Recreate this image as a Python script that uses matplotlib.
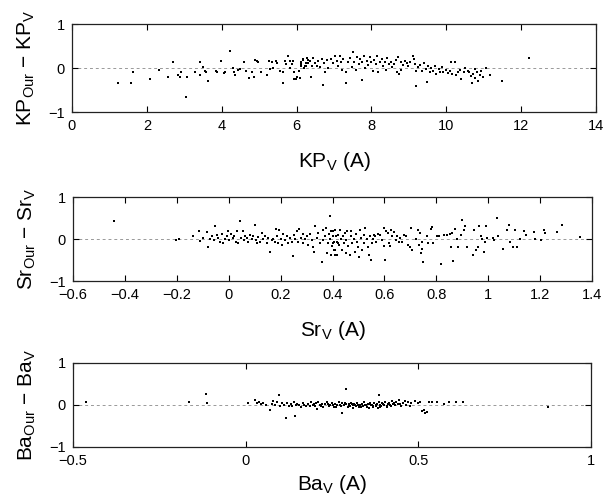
import numpy as np
import matplotlib
matplotlib.use("Agg")
import matplotlib.pyplot as plt

plt.rcParams['font.family'] = ['Liberation Sans', 'DejaVu Sans']
plt.rcParams['mathtext.fontset'] = 'custom'
plt.rcParams['mathtext.rm'] = 'Liberation Sans'
plt.rcParams['mathtext.it'] = 'Liberation Sans:italic'

# KP panel: (x, diff)
kp_pts = [
    (1.24, -0.35), (1.58, -0.33), (1.64, -0.09), (2.08, -0.25), (2.33, -0.05), (2.57, -0.2),
    (2.69, 0.14), (2.84, -0.16), (2.89, -0.21), (2.9, -0.1), (3.04, -0.65), (3.08, -0.2),
    (3.29, -0.08), (3.42, 0.14), (3.42, -0.16), (3.51, 0.02), (3.55, -0.06), (3.58, -0.1),
    (3.64, -0.29), (3.85, -0.06), (3.88, -0.08), (3.98, 0.17), (4.07, -0.12), (4.1, -0.1),
    (4.23, 0.39), (4.31, -0.01), (4.33, -0.08), (4.35, -0.17), (4.44, -0.05), (4.5, -0.02),
    (4.6, 0.14), (4.64, -0.06), (4.72, -0.23), (4.8, -0.1), (4.86, -0.2), (4.88, 0.19),
    (4.93, 0.16), (4.98, 0.14), (5.05, -0.08), (5.2, -0.16), (5.27, 0.16), (5.3, -0.02),
    (5.35, 0.14), (5.38, 0.0), (5.45, 0.17), (5.47, 0.11), (5.56, -0.06), (5.63, -0.35),
    (5.65, -0.1), (5.69, 0.16), (5.73, 0.08), (5.76, 0.28), (5.82, 0.17), (5.83, 0.0),
    (5.88, 0.08), (5.9, 0.16), (5.92, -0.1), (5.94, -0.25), (5.98, -0.25), (6.02, -0.2),
    (6.06, -0.07), (6.11, 0.05), (6.13, 0.13), (6.18, 0.2), (6.2, -0.01), (6.24, 0.11),
    (6.26, 0.05), (6.3, 0.19), (6.09, -0.23), (6.13, 0.09), (6.16, 0.19), (6.22, 0.04),
    (6.27, 0.22), (6.31, 0.11), (6.36, 0.17), (6.38, -0.2), (6.4, 0.05), (6.45, 0.22),
    (6.49, 0.11), (6.54, 0.05), (6.58, 0.17), (6.62, 0.02), (6.67, 0.2), (6.71, -0.38),
    (6.73, 0.11), (6.76, -0.1), (6.8, 0.19), (6.84, -0.01), (6.93, 0.2), (6.98, 0.11),
    (7.02, 0.27), (7.07, 0.17), (7.11, 0.05), (7.15, 0.28), (7.2, 0.13), (7.22, -0.04),
    (7.25, 0.2), (7.31, -0.34), (7.33, -0.1), (7.38, 0.13), (7.42, 0.22), (7.47, 0.02),
    (7.51, 0.36), (7.54, 0.14), (7.58, -0.04), (7.62, 0.24), (7.66, 0.09), (7.69, 0.2),
    (7.74, -0.27), (7.76, 0.13), (7.8, 0.27), (7.84, -0.01), (7.87, 0.17), (7.91, 0.07),
    (7.96, 0.24), (8.0, 0.13), (8.03, -0.06), (8.06, 0.19), (8.12, 0.09), (8.15, 0.27),
    (8.18, -0.1), (8.22, 0.14), (8.27, 0.2), (8.31, 0.04), (8.35, 0.13), (8.38, -0.04),
    (8.42, 0.22), (8.47, 0.09), (8.51, 0.14), (8.56, 0.02), (8.6, 0.09), (8.65, 0.19),
    (8.69, -0.1), (8.72, 0.24), (8.74, -0.14), (8.78, -0.04), (8.8, 0.13), (8.85, 0.07),
    (8.89, 0.17), (8.94, 0.11), (8.98, 0.04), (9.03, 0.13), (9.1, 0.27), (9.13, 0.2),
    (9.16, 0.09), (9.18, -0.06), (9.2, -0.4), (9.25, 0.02), (9.29, 0.07), (9.34, -0.06),
    (9.4, 0.11), (9.45, -0.02), (9.48, -0.31), (9.51, 0.04), (9.56, -0.1), (9.6, -0.01),
    (9.65, -0.06), (9.69, 0.05), (9.73, -0.14), (9.8, -0.02), (9.84, -0.08), (9.89, 0.02),
    (9.92, -0.1), (9.98, -0.04), (10.04, -0.11), (10.09, -0.06), (10.13, 0.13), (10.16, -0.14),
    (10.22, 0.14), (10.25, -0.17), (10.31, -0.1), (10.36, -0.04), (10.4, -0.25), (10.47, -0.1),
    (10.51, -0.01), (10.58, -0.06), (10.62, -0.1), (10.67, -0.19), (10.69, -0.33), (10.71, -0.14),
    (10.76, -0.02), (10.78, -0.23), (10.82, -0.1), (10.84, -0.29), (10.89, -0.17), (10.93, -0.06),
    (10.98, -0.21), (11.07, -0.01), (11.16, -0.16), (11.5, -0.3), (12.2, 0.23),
]

# Sr panel
sr_pts = [
    (-0.443, 0.42), (-0.204, -0.02), (-0.193, 0.01), (-0.138, 0.06), (-0.115, 0.18), (-0.112, -0.04),
    (-0.1, 0.02), (-0.084, 0.16), (-0.08, -0.18), (-0.072, 0.0), (-0.065, 0.06), (-0.056, -0.03),
    (-0.051, 0.3), (-0.047, 0.1), (-0.04, 0.02), (-0.034, -0.06), (-0.027, 0.13), (-0.021, -0.1),
    (-0.014, 0.0), (-0.008, 0.08), (-0.001, 0.18), (0.003, -0.03), (0.008, 0.13), (0.016, 0.02),
    (0.021, 0.06), (0.028, -0.06), (0.031, 0.18), (0.037, -0.1), (0.044, 0.42), (0.048, 0.02),
    (0.054, 0.18), (0.059, -0.02), (0.063, 0.08), (0.07, 0.02), (0.076, -0.06), (0.082, 0.1),
    (0.089, 0.0), (0.095, 0.06), (0.1, 0.34), (0.104, -0.03), (0.11, -0.1), (0.114, 0.05),
    (0.121, -0.06), (0.127, 0.14), (0.134, 0.0), (0.14, 0.06), (0.147, -0.1), (0.153, 0.02),
    (0.159, -0.3), (0.166, -0.03), (0.172, 0.0), (0.178, -0.08), (0.182, 0.25), (0.187, 0.06),
    (0.191, -0.1), (0.195, 0.21), (0.2, 0.0), (0.204, -0.14), (0.21, 0.13), (0.217, -0.03),
    (0.223, 0.06), (0.23, -0.1), (0.236, 0.02), (0.243, -0.06), (0.247, -0.4), (0.252, 0.1),
    (0.256, 0.0), (0.262, 0.18), (0.268, -0.06), (0.272, 0.24), (0.277, 0.02), (0.285, 0.13),
    (0.288, -0.1), (0.294, 0.0), (0.301, 0.08), (0.307, -0.14), (0.314, 0.13), (0.32, -0.03),
    (0.324, -0.18), (0.33, -0.32), (0.333, 0.3), (0.34, 0.02), (0.346, 0.14), (0.352, -0.1),
    (0.359, -0.54), (0.363, 0.21), (0.365, -0.03), (0.372, 0.08), (0.376, 0.26), (0.378, -0.34),
    (0.381, -0.1), (0.385, 0.13), (0.389, 0.54), (0.391, 0.0), (0.394, -0.38), (0.398, -0.16),
    (0.401, 0.18), (0.404, -0.06), (0.41, -0.26), (0.414, 0.06), (0.419, -0.38), (0.423, -0.1),
    (0.396, 0.18), (0.4, -0.1), (0.402, 0.06), (0.405, -0.26), (0.408, -0.38), (0.411, 0.21),
    (0.416, -0.06), (0.42, 0.1), (0.424, -0.14), (0.43, 0.22), (0.433, 0.0), (0.437, -0.26),
    (0.44, 0.08), (0.443, -0.1), (0.447, 0.14), (0.451, -0.34), (0.453, -0.03), (0.457, 0.18),
    (0.46, -0.16), (0.467, -0.38), (0.47, 0.06), (0.473, 0.18), (0.477, -0.1), (0.483, 0.0),
    (0.487, -0.32), (0.491, 0.13), (0.496, -0.06), (0.5, -0.18), (0.504, -0.43), (0.507, 0.21),
    (0.51, 0.02), (0.513, -0.26), (0.52, -0.1), (0.522, 0.1), (0.526, 0.26), (0.532, 0.0),
    (0.536, -0.18), (0.539, -0.38), (0.546, 0.06), (0.548, -0.5), (0.552, -0.1), (0.556, 0.0),
    (0.558, 0.1), (0.565, 0.06), (0.569, -0.06), (0.574, 0.13), (0.582, 0.1), (0.591, -0.02),
    (0.597, 0.26), (0.6, -0.16), (0.603, -0.51), (0.608, 0.18), (0.613, 0.14), (0.617, -0.1),
    (0.621, -0.16), (0.626, 0.22), (0.63, 0.08), (0.636, 0.16), (0.643, -0.02), (0.647, 0.08),
    (0.656, -0.06), (0.662, 0.02), (0.668, -0.06), (0.675, 0.1), (0.685, 0.06), (0.69, -0.14),
    (0.698, -0.19), (0.701, 0.26), (0.707, -0.26), (0.72, 0.0), (0.729, 0.22), (0.733, -0.14),
    (0.737, 0.14), (0.74, -0.34), (0.743, -0.24), (0.746, -0.06), (0.75, -0.55), (0.763, 0.08),
    (0.768, -0.1), (0.779, 0.24), (0.785, 0.29), (0.789, -0.1), (0.802, 0.06), (0.811, 0.08),
    (0.82, -0.6), (0.828, 0.1), (0.843, 0.1), (0.853, 0.13), (0.858, -0.18), (0.862, 0.14),
    (0.866, -0.52), (0.871, 0.24), (0.879, 0.0), (0.884, -0.18), (0.897, 0.1), (0.9, 0.46),
    (0.905, 0.22), (0.91, 0.32), (0.92, -0.18), (0.94, -0.38), (0.946, 0.22), (0.953, -0.27),
    (0.959, -0.18), (0.965, 0.3), (0.972, 0.06), (0.978, 0.0), (0.985, -0.3), (0.991, 0.32),
    (0.987, -0.06), (0.995, 0.02), (1.017, 0.02), (1.024, -0.03), (1.034, 0.5), (1.037, 0.08),
    (1.057, -0.24), (1.074, 0.21), (1.079, 0.34), (1.083, -0.06), (1.095, -0.18), (1.102, 0.21),
    (1.111, -0.18), (1.121, 0.0), (1.138, 0.18), (1.147, 0.1), (1.177, 0.16), (1.18, 0.0),
    (1.205, -0.03), (1.214, 0.21), (1.218, 0.14), (1.266, 0.16), (1.285, 0.34), (1.352, 0.05),
]

# Ba panel
ba_pts = [
    (-0.462, 0.08), (-0.164, 0.07), (-0.116, 0.26), (-0.113, 0.05), (0.008, 0.04), (0.027, 0.12),
    (0.032, 0.04), (0.04, 0.07), (0.045, 0.02), (0.06, 0.0), (0.07, -0.11), (0.08, 0.1),
    (0.085, -0.01), (0.097, 0.23), (0.117, -0.32), (0.143, -0.26), (0.133, -0.03), (0.206, -0.09),
    (0.278, -0.18), (0.29, 0.39), (0.385, 0.25), (0.51, -0.15), (0.52, -0.18),
    (0.05, 0.05), (0.075, 0.03), (0.09, 0.06), (0.1, -0.02), (0.105, 0.04), (0.11, 0.01),
    (0.12, 0.05), (0.125, -0.03), (0.13, 0.02), (0.14, 0.06), (0.145, -0.01), (0.15, 0.03),
    (0.16, -0.04), (0.165, 0.05), (0.17, 0.0), (0.18, 0.03), (0.185, -0.02), (0.19, 0.07),
    (0.195, 0.01), (0.2, -0.03), (0.205, 0.04), (0.21, 0.06), (0.215, -0.01), (0.22, 0.02),
    (0.225, -0.05), (0.23, 0.03), (0.235, 0.08), (0.24, -0.02), (0.245, 0.01), (0.25, 0.05),
    (0.255, -0.04), (0.26, 0.02), (0.265, 0.0), (0.27, 0.06), (0.275, -0.03), (0.28, 0.04),
    (0.285, -0.01), (0.29, 0.02), (0.295, -0.05), (0.3, 0.03), (0.302, -0.02), (0.305, 0.05),
    (0.31, 0.0), (0.312, -0.06), (0.315, 0.02), (0.32, -0.03), (0.322, 0.04), (0.325, -0.01),
    (0.33, 0.01), (0.333, -0.05), (0.336, 0.03), (0.34, -0.02), (0.343, 0.06), (0.346, 0.0),
    (0.35, -0.04), (0.353, 0.02), (0.356, -0.07), (0.36, 0.04), (0.363, -0.01), (0.366, 0.01),
    (0.37, -0.05), (0.373, 0.05), (0.376, -0.02), (0.38, 0.02), (0.383, -0.06), (0.386, 0.07),
    (0.39, 0.0), (0.393, -0.03), (0.396, 0.04), (0.4, -0.01), (0.404, 0.08), (0.408, -0.04),
    (0.412, 0.02), (0.416, 0.05), (0.42, -0.02), (0.424, 0.1), (0.428, 0.03), (0.432, -0.01),
    (0.436, 0.07), (0.44, 0.02), (0.445, 0.11), (0.45, -0.03), (0.455, 0.05), (0.46, 0.09),
    (0.465, 0.01), (0.47, 0.06), (0.475, -0.02), (0.48, 0.04), (0.49, 0.1), (0.5, 0.05),
    (0.505, 0.08), (0.516, -0.13), (0.525, -0.17), (0.53, 0.06), (0.54, 0.07), (0.553, 0.06),
    (0.575, 0.03), (0.59, 0.07), (0.61, 0.06), (0.628, 0.07), (0.876, -0.04),
    # extra points in the dense core
    (0.155, 0.01), (0.175, -0.02), (0.198, 0.03), (0.218, -0.03), (0.238, 0.02), (0.252, -0.01),
    (0.262, -0.05), (0.272, 0.01), (0.288, 0.05), (0.298, -0.02), (0.308, 0.03), (0.318, 0.0),
    (0.328, -0.04), (0.338, 0.02), (0.348, -0.01), (0.358, 0.03), (0.368, -0.03), (0.378, 0.01),
    (0.388, -0.04), (0.398, 0.02), (0.41, -0.02), (0.418, 0.01), (0.43, 0.05), (0.448, 0.02),
]

panels = [
    dict(pts=kp_pts, xlim=(0, 14), xticks=[0, 2, 4, 6, 8, 10, 12, 14],
         xticklabels=None, name='KP', xpad=12,
         rect=[72 / 605, 1 - 112 / 498, 524 / 605, 88 / 498]),
    dict(pts=sr_pts, xlim=(-0.6, 1.4),
         xticks=[-0.6, -0.4, -0.2, 0, 0.2, 0.4, 0.6, 0.8, 1, 1.2, 1.4],
         xticklabels=['−0.6', '−0.4', '−0.2', '0', '0.2', '0.4', '0.6', '0.8', '1', '1.2', '1.4'],
         name='Sr', xpad=12, rect=[73 / 605, 1 - 281 / 498, 519 / 605, 84 / 498]),
    dict(pts=ba_pts, xlim=(-0.5, 1), xticks=[-0.5, 0, 0.5, 1],
         xticklabels=['−0.5', '0', '0.5', '1'], name='Ba', xpad=4,
         rect=[73 / 605, 1 - 447 / 498, 518 / 605, 84 / 498]),
]

fig = plt.figure(figsize=(6.05, 4.98), dpi=100)

for p in panels:
    ax = fig.add_axes(p['rect'])
    x = [a for a, b in p['pts']]
    y = [b for a, b in p['pts']]
    ax.axhline(0, color='#999999', linestyle=(0, (3, 3)), linewidth=0.7, zorder=1)
    ax.plot(x, y, 's', color='black', markersize=1.5, markeredgewidth=0, zorder=2)
    ax.set_xlim(*p['xlim'])
    ax.set_ylim(-1, 1)
    ax.set_xticks(p['xticks'])
    if p['xticklabels'] is not None:
        ax.set_xticklabels(p['xticklabels'])
    ax.set_yticks([-1, 0, 1])
    ax.set_yticklabels(['−1', '0', '1'])
    ax.tick_params(direction='in', length=4, width=0.8, labelsize=10.5,
                   top=True, right=True, pad=5)
    for s in ax.spines.values():
        s.set_linewidth(0.9)
        s.set_color('#222222')
    n = p['name']
    ax.set_xlabel(n + r'$_{\rm V}$ (A)', fontsize=15, labelpad=p['xpad'])
    ax.set_ylabel(n + r'$_{\rm Our}$ − ' + n + r'$_{\rm V}$', fontsize=15, labelpad=8)

fig.savefig('out.png', dpi=100)
